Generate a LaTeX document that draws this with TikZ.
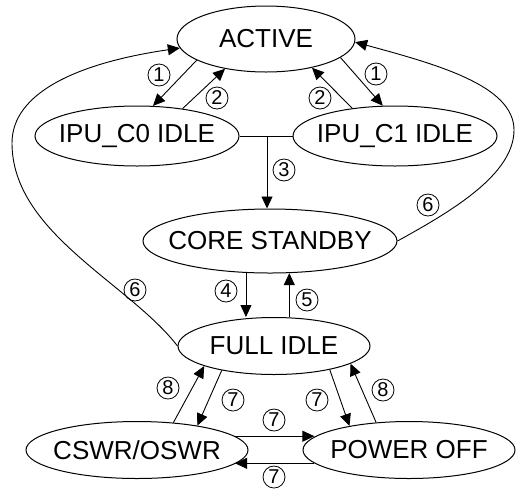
\documentclass[tikz,border=0pt]{standalone}
\usepackage{fontspec}
\setmainfont{Liberation Sans}
\usetikzlibrary{arrows.meta,shapes.geometric}

\begin{document}
\begin{tikzpicture}[
  x=1pt, y=-1pt,
  state/.style={ellipse, draw, line width=1pt, inner xsep=-30pt, inner ysep=0pt,
    font=\fontsize{26}{26}\selectfont},
  num/.style={circle, draw, line width=0.8pt, inner sep=0pt, minimum size=22pt,
    font=\fontsize{20}{20}\selectfont},
  conn/.style={-{Triangle[length=12pt,width=11pt]}, line width=0.9pt},
]
  \useasboundingbox (0,0) rectangle (516,491);

  \node[state, minimum width=178pt, minimum height=66pt] (act) at (266,39) {ACTIVE};
  \node[state, minimum width=204pt, minimum height=60pt] (c0) at (137,136) {IPU\_C0 IDLE};
  \node[state, minimum width=204pt, minimum height=60pt] (c1) at (395,136) {IPU\_C1 IDLE};
  \node[state, minimum width=254pt, minimum height=64pt] (core) at (270,241) {CORE STANDBY};
  \node[state, minimum width=192pt, minimum height=57pt] (full) at (274,346) {FULL IDLE};
  \node[state, minimum width=222pt, minimum height=57pt] (cswr) at (137,450) {CSWR/OSWR};
  \node[state, minimum width=212pt, minimum height=57pt] (poff) at (409,450) {POWER OFF};

  % active and the two IPU idle states
  \draw[conn] (act.197) -- (c0.62);
  \draw[conn] (c0.31) -- (act.216);
  \draw[conn] (act.346) -- (c1.112);
  \draw[conn] (c1.147) -- (act.328);

  \coordinate (jn) at (267,136);
  \draw[line width=0.9pt] (c0) -- (c1);
  \draw[conn] (jn) -- (jn |- core.north);

  \draw[conn] (core.233) -- (core.233 |- full.north);
  \draw[conn] (full.north -| core.301) -- (core.301);

  % wake-up paths back to active
  \draw[conn] (core.east) .. controls (450,212) and (514,175) .. (514,130)
    .. controls (514,85) and (435,64) .. (act.358);
  \draw[conn] (full.west) .. controls (129,283) and (12,233) .. (12,143)
    .. controls (12,93) and (77,63) .. (act.186);

  \draw[conn] (cswr.37) -- (full.196);
  \draw[conn] (full.205) -- (cswr.22);
  \draw[conn] (full.337) -- (poff.158);
  \draw[conn] (poff.140) -- (full.347);
  \draw[conn] (cswr.8) -- (poff.172 |- cswr.8);
  \draw[conn] (poff.188) -- (cswr.352 |- poff.188);

  \foreach \n/\x/\y [count=\i] in {1/159/75, 2/217/98, 1/376/74, 2/320/98,
      3/284/170, 6/428/205, 6/135/290, 4/226/291, 5/307/300, 8/168/388,
      7/233/400, 7/317/400, 8/383/390, 7/274/420, 7/274/477}
    \node[num] (lab\i) at (\x,\y) {\n};
\end{tikzpicture}
\end{document}
